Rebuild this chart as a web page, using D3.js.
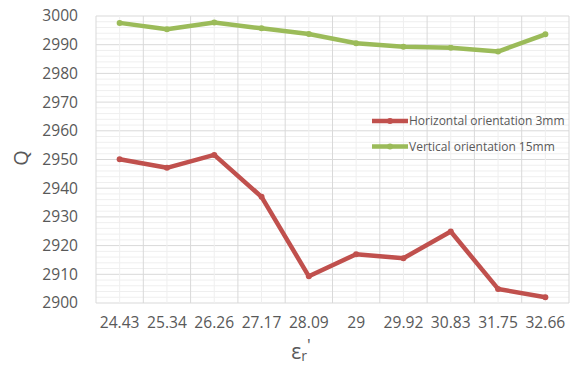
<!DOCTYPE html>
<html><head><meta charset="utf-8">
<script src="https://cdn.jsdelivr.net/npm/d3@7"></script>
<style>body{margin:0;background:#fff;} svg{display:block;font-family:"Open Sans","Noto Sans",sans-serif;}</style>
</head><body><svg id="c" width="576" height="369"></svg>
<script>
const categories = ["24.43","25.34","26.26","27.17","28.09","29","29.92","30.83","31.75","32.66"];
const horizontal3mm = [2950.1,2947.1,2951.6,2937.0,2909.3,2917.0,2915.6,2924.9,2904.9,2902.0];
const vertical15mm = [2997.6,2995.4,2997.7,2995.7,2993.7,2990.5,2989.3,2988.9,2987.6,2993.6];
const yTicks = [2900,2910,2920,2930,2940,2950,2960,2970,2980,2990,3000];
const seriesNames = ["Horizontal orientation 3mm","Vertical orientation 15mm"];
const colors = ["#c0504d","#9bbb59"];

const svg = d3.select("#c");
const L=96, R=569, T=16, B=303;
const x = d3.scaleBand().domain(categories).range([L,R]);
const y = d3.scaleLinear().domain([2900,3000]).range([B,T]);

const g = svg.append("g");
d3.range(2900,3000.1,2).forEach(v=>{
  g.append("line").attr("x1",L).attr("x2",R).attr("y1",y(v)).attr("y2",y(v))
   .attr("stroke", v%10===0 ? "#d9d9d9" : "#efefef").attr("stroke-width",1);
});
categories.forEach(c=>{
  g.append("line").attr("x1",x(c)+x.bandwidth()/2).attr("x2",x(c)+x.bandwidth()/2).attr("y1",T).attr("y2",B).attr("stroke","#efefef");
});
categories.concat([null]).forEach((c,i)=>{
  const xx = c===null ? R : x(c);
  g.append("line").attr("x1",xx).attr("x2",xx).attr("y1",T).attr("y2",B).attr("stroke","#d9d9d9");
});

yTicks.forEach(v=>{
  svg.append("text").attr("x",78).attr("y",y(v)).attr("dy","0.35em").attr("text-anchor","end")
    .attr("font-size",15.6).attr("fill","#595959").text(v);
});
categories.forEach(c=>{
  svg.append("text").attr("x",x(c)+x.bandwidth()/2).attr("y",328).attr("text-anchor","middle")
    .attr("font-size",15.6).attr("fill","#595959").text(c);
});

const line = d3.line().x((d,i)=>x(categories[i])+x.bandwidth()/2).y(d=>y(d));
[horizontal3mm, vertical15mm].forEach((s,k)=>{
  svg.append("path").datum(s).attr("d",line).attr("fill","none").attr("stroke",colors[k])
    .attr("stroke-width",4.5).attr("stroke-linejoin","round");
  svg.selectAll(null).data(s).enter().append("circle")
    .attr("cx",(d,i)=>x(categories[i])+x.bandwidth()/2).attr("cy",d=>y(d)).attr("r",3).attr("fill",colors[k]);
});

const legY=[121,146.5];
seriesNames.forEach((n,k)=>{
  svg.append("line").attr("x1",372).attr("x2",408).attr("y1",legY[k]).attr("y2",legY[k])
    .attr("stroke",colors[k]).attr("stroke-width",4.5);
  svg.append("circle").attr("cx",390).attr("cy",legY[k]).attr("r",3).attr("fill",colors[k]);
  svg.append("text").attr("x",409).attr("y",legY[k]).attr("dy","0.35em").attr("font-size",12)
    .attr("fill","#595959").text(n);
});

svg.append("text").attr("transform","translate(21,158) rotate(-90)").attr("text-anchor","middle")
  .attr("dy","0.35em").attr("font-size",20).attr("fill","#595959").text("Q");
const xt = svg.append("text").attr("x",301).attr("y",359).attr("text-anchor","middle")
  .attr("font-size",21).attr("fill","#595959");
xt.append("tspan").text("ε");
xt.append("tspan").attr("font-size",14).attr("dy",2).text("r");
xt.append("tspan").attr("font-size",17).attr("dy",-10).text("'");
</script></body></html>
